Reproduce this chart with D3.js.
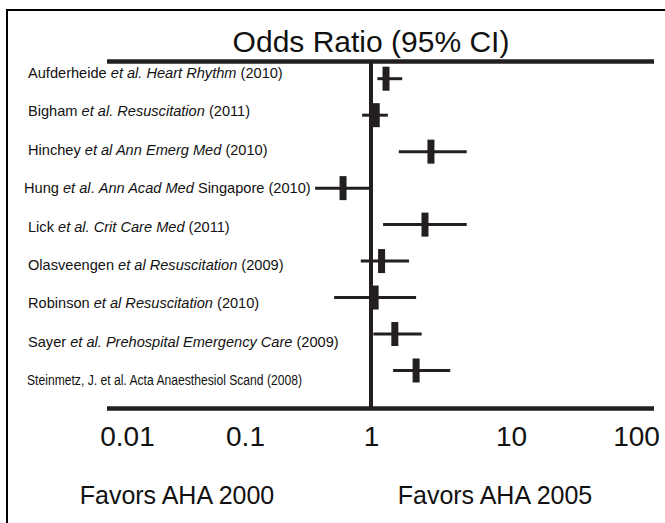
<!DOCTYPE html>
<html><head><meta charset="utf-8">
<script src="https://cdn.jsdelivr.net/npm/d3@7"></script>
<style>
html,body{margin:0;padding:0;background:#fff;}
svg{display:block;font-family:"Liberation Sans",Arial,sans-serif;}
</style></head>
<body>
<svg id="chart" width="665" height="523"></svg>
<script>
// ---- data ----
const studies = ["Aufderheide","Bigham","Hinchey","Hung","Lick","Olasveengen","Robinson","Sayer","Steinmetz"];
// label parts: [text, italic?]
const labelParts = [
  [["Aufderheide ",0],["et al. Heart Rhythm",1],[" (2010)",0]],
  [["Bigham ",0],["et al. Resuscitation",1],[" (2011)",0]],
  [["Hinchey ",0],["et al Ann Emerg Med",1],[" (2010)",0]],
  [["Hung ",0],["et al",1],[". ",0],["Ann Acad Med",1],[" Singapore (2010)",0]],
  [["Lick ",0],["et al. Crit Care Med",1],[" (2011)",0]],
  [["Olasveengen ",0],["et al Resuscitation",1],[" (2009)",0]],
  [["Robinson ",0],["et al Resuscitation",1],[" (2010)",0]],
  [["Sayer ",0],["et al. Prehospital Emergency Care",1],[" (2009)",0]],
  [["Steinmetz, J. et al. Acta Anaesthesiol Scand (2008)",0]]
];
const oddsRatio = [1.28, 1.09, 2.68, 0.60, 2.43, 1.19, 1.07, 1.48, 2.10];
const ciLower   = [1.11, 0.85, 1.58, 0.36, 1.22, 0.83, 0.51, 1.04, 1.44];
const ciUpper   = [1.67, 1.32, 4.83, 0.99, 4.83, 1.87, 2.10, 2.30, 3.68];
const tickValues = [0.01, 0.1, 1, 10, 100];
const tickLabels = ["0.01", "0.1", "1", "10", "100"];
const title = "Odds Ratio (95% CI)";
const favorLeft = "Favors AHA 2000";
const favorRight = "Favors AHA 2005";

// ---- layout ----
const ink = "#231f20";
const svg = d3.select("#chart");
const axisTop = 61.5, axisBottom = 408.5, axisLeft = 107, axisRight = 654;

const x = d3.scaleLog()
  .domain(tickValues)
  .range([127, 245, 371, 511, 636]);
const y = d3.scalePoint().domain(studies).range([78.7, 370.5]);
const yLabel = d3.scalePoint().domain(studies).range([73, 380]);

// frame
svg.append("rect").attr("x", 7).attr("y", 10).attr("width", 700).attr("height", 560)
  .attr("fill", "none").attr("stroke", "#000").attr("stroke-width", 2);

// title
svg.append("text").attr("x", x(1)).attr("y", 52).attr("text-anchor", "middle")
  .attr("font-size", 30).attr("fill", "#111").text(title);

// top & bottom lines
svg.append("line").attr("x1", axisLeft).attr("x2", axisRight).attr("y1", axisTop).attr("y2", axisTop)
  .attr("stroke", ink).attr("stroke-width", 4.5);
svg.append("line").attr("x1", axisLeft).attr("x2", axisRight).attr("y1", axisBottom).attr("y2", axisBottom)
  .attr("stroke", ink).attr("stroke-width", 4.5);
// line of no effect
svg.append("line").attr("x1", x(1)).attr("x2", x(1)).attr("y1", axisTop).attr("y2", axisBottom)
  .attr("stroke", ink).attr("stroke-width", 4);

// axis tick labels
const xAxis = d3.axisBottom(x).tickValues(tickValues)
  .tickFormat((d, i) => tickLabels[i]).tickSize(0).tickPadding(0);
const gx = svg.append("g").attr("transform", `translate(0,${axisBottom + 18})`).call(xAxis);
gx.select(".domain").remove();
gx.selectAll("text").attr("font-size", 28).attr("fill", "#111")
  .attr("font-family", "Liberation Sans, Arial, sans-serif").attr("dy", "0.71em");

// favors labels
svg.append("text").attr("x", 177).attr("y", 504).attr("text-anchor", "middle")
  .attr("font-size", 25).attr("fill", "#111").text(favorLeft);
svg.append("text").attr("x", 495).attr("y", 504).attr("text-anchor", "middle")
  .attr("font-size", 25).attr("fill", "#111").text(favorRight);

// study labels
const labelX = [28, 28, 28, 24, 28, 28, 28, 28, 27];
const labelSize = [14.6, 14.6, 14.6, 14.6, 14.6, 14.6, 14.6, 14.6, 14];
studies.forEach((s, i) => {
  const t = svg.append("text").attr("x", labelX[i]).attr("y", yLabel(s) + 5)
    .attr("font-size", labelSize[i]).attr("fill", "#111");
  if (i === studies.length - 1) t.attr("textLength", 275).attr("lengthAdjust", "spacingAndGlyphs");
  labelParts[i].forEach(p => {
    t.append("tspan").attr("font-style", p[1] ? "italic" : "normal").text(p[0]);
  });
});

// CI lines
const rows = studies.map((s, i) => ({s, or: oddsRatio[i], lo: ciLower[i], hi: ciUpper[i]}));
svg.append("g").selectAll("line").data(rows).join("line")
  .attr("x1", d => x(d.lo)).attr("x2", d => x(d.hi))
  .attr("y1", d => y(d.s)).attr("y2", d => y(d.s))
  .attr("stroke", ink).attr("stroke-width", 3);
// point boxes
svg.append("g").selectAll("rect").data(rows).join("rect")
  .attr("x", d => x(d.or) - 3.5).attr("y", d => y(d.s) - 12)
  .attr("width", 7).attr("height", 24).attr("fill", ink);
</script>
</body></html>
